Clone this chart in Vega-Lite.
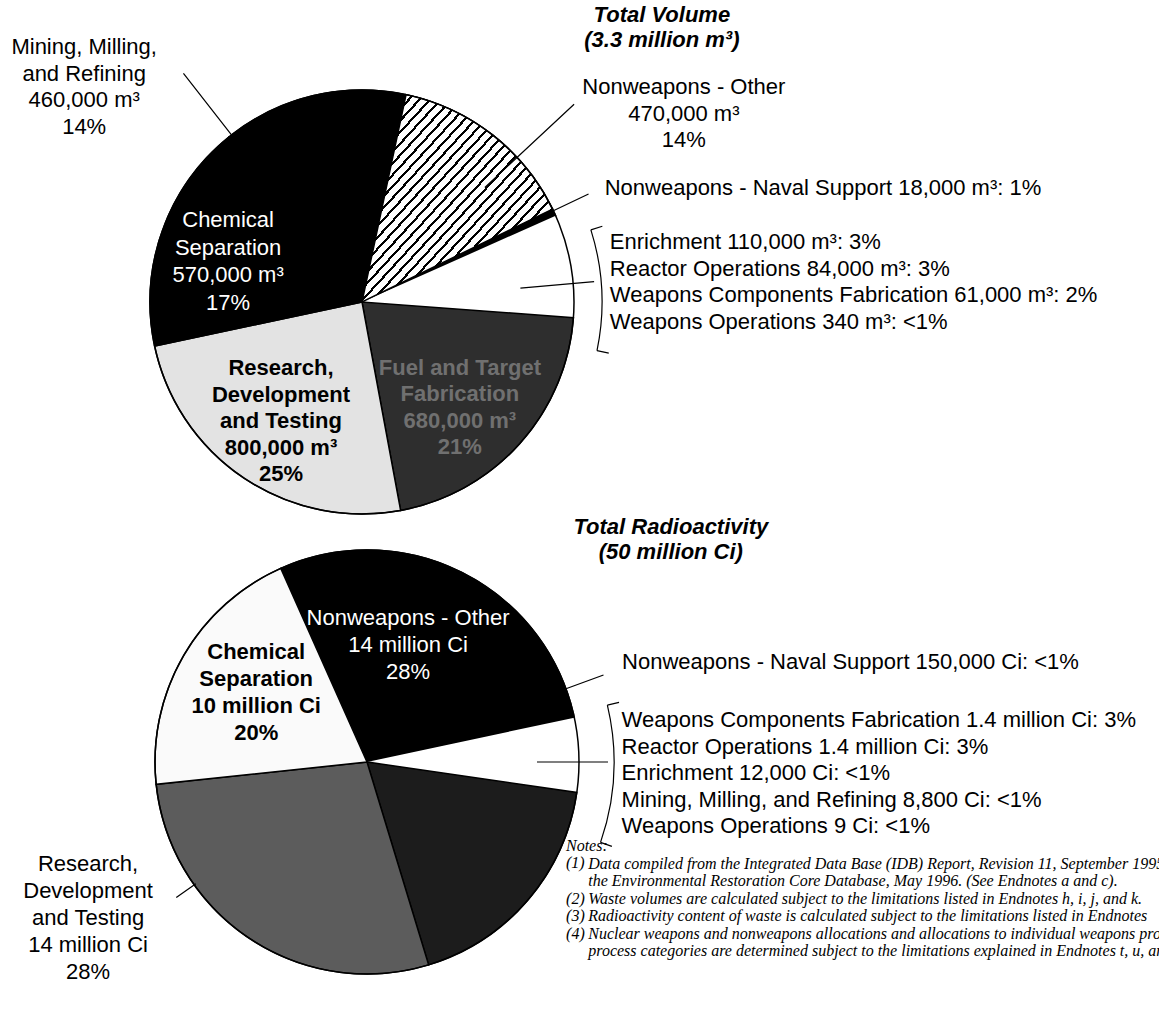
{
  "$schema": "https://vega.github.io/schema/vega-lite/v6.json",
  "padding": 0,
  "spacing": 0,
  "bounds": "flush",
  "background": "white",
  "config": {"view": {"stroke": null}, "text": {"font": "Liberation Sans", "fontSize": 22, "color": "black"}},
  "resolve": {"scale": {"theta": "independent", "color": "independent"}},
  "vconcat": [
    {
      "width": 724,
      "height": 604,
      "data": {"values": [
        {"category": "Nonweapons - Other", "value": 470000, "o": 1},
        {"category": "Nonweapons - Naval Support", "value": 18000, "o": 2},
        {"category": "Enrichment", "value": 110000, "o": 3},
        {"category": "Reactor Operations", "value": 84000, "o": 4},
        {"category": "Weapons Components Fabrication", "value": 61000, "o": 5},
        {"category": "Weapons Operations", "value": 340, "o": 6},
        {"category": "Fuel and Target Fabrication", "value": 680000, "o": 7},
        {"category": "Research, Development and Testing", "value": 800000, "o": 8},
        {"category": "Chemical Separation", "value": 570000, "o": 9},
        {"category": "Mining, Milling, and Refining", "value": 460000, "o": 10}
      ]},
      "transform": [{"stack": "value", "groupby": [], "sort": [{"field": "o", "order": "ascending"}], "as": ["v0", "v1"]}],
      "layer": [
        {
          "mark": {"type": "arc", "radius": 212, "stroke": "black"},
          "encoding": {
            "theta": {"field": "v0", "type": "quantitative", "stack": null, "scale": {"domain": [0, 3253340], "range": [0.20944, 6.49262], "nice": false, "zero": false}},
            "theta2": {"field": "v1"},
            "color": {"field": "category", "type": "nominal", "legend": null, "scale": {
              "domain": ["Nonweapons - Other", "Nonweapons - Naval Support", "Enrichment", "Reactor Operations", "Weapons Components Fabrication", "Weapons Operations", "Fuel and Target Fabrication", "Research, Development and Testing", "Chemical Separation", "Mining, Milling, and Refining"],
              "range": ["#b5b5b5", "#000000", "#ffffff", "#ffffff", "#ffffff", "#ffffff", "#2e2e2e", "#e3e3e3", "#000000", "#000000"]}},
            "strokeWidth": {"condition": {"test": "indexof(['Enrichment','Reactor Operations','Weapons Components Fabrication','Weapons Operations'], datum.category) >= 0", "value": 0}, "value": 1.5}
          }
        },
        {
          "transform": [{"filter": "datum.o === 1"}],
          "mark": {"type": "arc", "radius": 212, "stroke": "black", "strokeWidth": 1.5,
            "fill": {"gradient": "linear", "x1": 0, "y1": 0, "x2": 1, "y2": 1, "stops": [
              {"offset": 0, "color": "#fff"}, {"offset": 0.02, "color": "#fff"}, {"offset": 0.02, "color": "#000"}, {"offset": 0.02778, "color": "#000"},
              {"offset": 0.02778, "color": "#fff"}, {"offset": 0.04778, "color": "#fff"}, {"offset": 0.04778, "color": "#000"}, {"offset": 0.05556, "color": "#000"},
              {"offset": 0.05556, "color": "#fff"}, {"offset": 0.07556, "color": "#fff"}, {"offset": 0.07556, "color": "#000"}, {"offset": 0.08333, "color": "#000"},
              {"offset": 0.08333, "color": "#fff"}, {"offset": 0.10333, "color": "#fff"}, {"offset": 0.10333, "color": "#000"}, {"offset": 0.11111, "color": "#000"},
              {"offset": 0.11111, "color": "#fff"}, {"offset": 0.13111, "color": "#fff"}, {"offset": 0.13111, "color": "#000"}, {"offset": 0.13889, "color": "#000"},
              {"offset": 0.13889, "color": "#fff"}, {"offset": 0.15889, "color": "#fff"}, {"offset": 0.15889, "color": "#000"}, {"offset": 0.16667, "color": "#000"},
              {"offset": 0.16667, "color": "#fff"}, {"offset": 0.18667, "color": "#fff"}, {"offset": 0.18667, "color": "#000"}, {"offset": 0.19444, "color": "#000"},
              {"offset": 0.19444, "color": "#fff"}, {"offset": 0.21444, "color": "#fff"}, {"offset": 0.21444, "color": "#000"}, {"offset": 0.22222, "color": "#000"},
              {"offset": 0.22222, "color": "#fff"}, {"offset": 0.24222, "color": "#fff"}, {"offset": 0.24222, "color": "#000"}, {"offset": 0.25, "color": "#000"},
              {"offset": 0.25, "color": "#fff"}, {"offset": 0.27, "color": "#fff"}, {"offset": 0.27, "color": "#000"}, {"offset": 0.27778, "color": "#000"},
              {"offset": 0.27778, "color": "#fff"}, {"offset": 0.29778, "color": "#fff"}, {"offset": 0.29778, "color": "#000"}, {"offset": 0.30556, "color": "#000"},
              {"offset": 0.30556, "color": "#fff"}, {"offset": 0.32556, "color": "#fff"}, {"offset": 0.32556, "color": "#000"}, {"offset": 0.33333, "color": "#000"},
              {"offset": 0.33333, "color": "#fff"}, {"offset": 0.35333, "color": "#fff"}, {"offset": 0.35333, "color": "#000"}, {"offset": 0.36111, "color": "#000"},
              {"offset": 0.36111, "color": "#fff"}, {"offset": 0.38111, "color": "#fff"}, {"offset": 0.38111, "color": "#000"}, {"offset": 0.38889, "color": "#000"},
              {"offset": 0.38889, "color": "#fff"}, {"offset": 0.40889, "color": "#fff"}, {"offset": 0.40889, "color": "#000"}, {"offset": 0.41667, "color": "#000"},
              {"offset": 0.41667, "color": "#fff"}, {"offset": 0.43667, "color": "#fff"}, {"offset": 0.43667, "color": "#000"}, {"offset": 0.44444, "color": "#000"},
              {"offset": 0.44444, "color": "#fff"}, {"offset": 0.46444, "color": "#fff"}, {"offset": 0.46444, "color": "#000"}, {"offset": 0.47222, "color": "#000"},
              {"offset": 0.47222, "color": "#fff"}, {"offset": 0.49222, "color": "#fff"}, {"offset": 0.49222, "color": "#000"}, {"offset": 0.5, "color": "#000"},
              {"offset": 0.5, "color": "#fff"}, {"offset": 0.52, "color": "#fff"}, {"offset": 0.52, "color": "#000"}, {"offset": 0.52778, "color": "#000"},
              {"offset": 0.52778, "color": "#fff"}, {"offset": 0.54778, "color": "#fff"}, {"offset": 0.54778, "color": "#000"}, {"offset": 0.55556, "color": "#000"},
              {"offset": 0.55556, "color": "#fff"}, {"offset": 0.57556, "color": "#fff"}, {"offset": 0.57556, "color": "#000"}, {"offset": 0.58333, "color": "#000"},
              {"offset": 0.58333, "color": "#fff"}, {"offset": 0.60333, "color": "#fff"}, {"offset": 0.60333, "color": "#000"}, {"offset": 0.61111, "color": "#000"},
              {"offset": 0.61111, "color": "#fff"}, {"offset": 0.63111, "color": "#fff"}, {"offset": 0.63111, "color": "#000"}, {"offset": 0.63889, "color": "#000"},
              {"offset": 0.63889, "color": "#fff"}, {"offset": 0.65889, "color": "#fff"}, {"offset": 0.65889, "color": "#000"}, {"offset": 0.66667, "color": "#000"},
              {"offset": 0.66667, "color": "#fff"}, {"offset": 0.68667, "color": "#fff"}, {"offset": 0.68667, "color": "#000"}, {"offset": 0.69444, "color": "#000"},
              {"offset": 0.69444, "color": "#fff"}, {"offset": 0.71444, "color": "#fff"}, {"offset": 0.71444, "color": "#000"}, {"offset": 0.72222, "color": "#000"},
              {"offset": 0.72222, "color": "#fff"}, {"offset": 0.74222, "color": "#fff"}, {"offset": 0.74222, "color": "#000"}, {"offset": 0.75, "color": "#000"},
              {"offset": 0.75, "color": "#fff"}, {"offset": 0.77, "color": "#fff"}, {"offset": 0.77, "color": "#000"}, {"offset": 0.77778, "color": "#000"},
              {"offset": 0.77778, "color": "#fff"}, {"offset": 0.79778, "color": "#fff"}, {"offset": 0.79778, "color": "#000"}, {"offset": 0.80556, "color": "#000"},
              {"offset": 0.80556, "color": "#fff"}, {"offset": 0.82556, "color": "#fff"}, {"offset": 0.82556, "color": "#000"}, {"offset": 0.83333, "color": "#000"},
              {"offset": 0.83333, "color": "#fff"}, {"offset": 0.85333, "color": "#fff"}, {"offset": 0.85333, "color": "#000"}, {"offset": 0.86111, "color": "#000"},
              {"offset": 0.86111, "color": "#fff"}, {"offset": 0.88111, "color": "#fff"}, {"offset": 0.88111, "color": "#000"}, {"offset": 0.88889, "color": "#000"},
              {"offset": 0.88889, "color": "#fff"}, {"offset": 0.90889, "color": "#fff"}, {"offset": 0.90889, "color": "#000"}, {"offset": 0.91667, "color": "#000"},
              {"offset": 0.91667, "color": "#fff"}, {"offset": 0.93667, "color": "#fff"}, {"offset": 0.93667, "color": "#000"}, {"offset": 0.94444, "color": "#000"},
              {"offset": 0.94444, "color": "#fff"}, {"offset": 0.96444, "color": "#fff"}, {"offset": 0.96444, "color": "#000"}, {"offset": 0.97222, "color": "#000"},
              {"offset": 0.97222, "color": "#fff"}, {"offset": 0.99222, "color": "#fff"}, {"offset": 0.99222, "color": "#000"}, {"offset": 1, "color": "#000"}
            ]}},
          "encoding": {"theta": {"field": "v0", "type": "quantitative", "stack": null}, "theta2": {"field": "v1"}}
        },
        {
          "transform": [{"filter": "datum.o === 1"}],
          "mark": {"type": "arc", "radius": 212, "theta": 0, "theta2": 6.2832, "filled": false, "stroke": "black", "strokeWidth": 1.5},
          "encoding": {}
        },
        {
          "transform": [{"filter": "datum.o === 2"}],
          "mark": {"type": "arc", "radius": 251, "radius2": 212, "thetaOffset": 0.0086, "theta2Offset": 0.0086, "filled": false, "stroke": "black", "strokeWidth": 1.2},
          "encoding": {"theta": {"field": "v0", "type": "quantitative", "stack": null}, "theta2": {"field": "v0"}}
        },
        {
          "transform": [{"filter": "datum.o === 1"}],
          "mark": {"type": "arc", "radius": 290, "radius2": 168, "thetaOffset": 0.6109, "theta2Offset": 0.6109, "filled": false, "stroke": "black", "strokeWidth": 1.2},
          "encoding": {"theta": {"field": "v0", "type": "quantitative", "stack": null}, "theta2": {"field": "v0"}}
        },
        {
          "transform": [{"filter": "datum.o === 10"}],
          "mark": {"type": "arc", "radius": 290, "radius2": 212, "thetaOffset": 0.0157, "theta2Offset": 0.0157, "filled": false, "stroke": "black", "strokeWidth": 1.2},
          "encoding": {"theta": {"field": "v0", "type": "quantitative", "stack": null}, "theta2": {"field": "v0"}}
        },
        {
          "transform": [{"filter": "datum.o === 4"}],
          "mark": {"type": "arc", "radius": 233, "radius2": 159, "thetaOffset": 0.1192, "theta2Offset": 0.1192, "filled": false, "stroke": "black", "strokeWidth": 1.2},
          "encoding": {"theta": {"field": "v0", "type": "quantitative", "stack": null}, "theta2": {"field": "v0"}}
        },
        {
          "transform": [{"filter": "datum.o === 3"}],
          "mark": {"type": "arc", "radius": 240, "radius2": 240, "thetaOffset": 0.1134, "theta2Offset": 0.6231, "filled": false, "stroke": "black", "strokeWidth": 1.2},
          "encoding": {"theta": {"field": "v0", "type": "quantitative", "stack": null}, "theta2": {"field": "v0"}}
        },
        {
          "transform": [{"filter": "datum.o === 3"}],
          "mark": {"type": "arc", "radius": 252, "radius2": 240, "thetaOffset": 0.1134, "theta2Offset": 0.1134, "filled": false, "stroke": "black", "strokeWidth": 1.2},
          "encoding": {"theta": {"field": "v0", "type": "quantitative", "stack": null}, "theta2": {"field": "v0"}}
        },
        {
          "transform": [{"filter": "datum.o === 3"}],
          "mark": {"type": "arc", "radius": 252, "radius2": 240, "thetaOffset": 0.6231, "theta2Offset": 0.6231, "filled": false, "stroke": "black", "strokeWidth": 1.2},
          "encoding": {"theta": {"field": "v0", "type": "quantitative", "stack": null}, "theta2": {"field": "v0"}}
        },
        {
          "transform": [{"filter": "datum.o === 1"}],
          "mark": {"type": "text", "radius": 415, "thetaOffset": 0.5981, "align": "center", "baseline": "middle", "fontWeight": "bold", "fontStyle": "italic", "lineHeight": 25},
          "encoding": {"theta": {"field": "v0", "type": "quantitative", "stack": null}, "text": {"value": ["Total Volume", "(3.3 million m³)"]}}
        },
        {
          "transform": [{"filter": "datum.o === 1"}],
          "mark": {"type": "text", "radius": 387, "thetaOffset": 0.7727, "align": "center", "baseline": "middle", "lineHeight": 26.5},
          "encoding": {"theta": {"field": "v0", "type": "quantitative", "stack": null}, "text": {"value": ["Nonweapons - Other", "470,000 m³", "14%"]}}
        },
        {
          "transform": [{"filter": "datum.o === 2"}],
          "mark": {"type": "text", "radius": 268, "thetaOffset": 0.0155, "align": "left", "baseline": "middle"},
          "encoding": {"theta": {"field": "v0", "type": "quantitative", "stack": null}, "text": {"value": "Nonweapons - Naval Support 18,000 m³: 1%"}}
        },
        {
          "transform": [{"filter": "datum.o === 4"}],
          "mark": {"type": "text", "radius": 255, "thetaOffset": -0.0309, "align": "left", "baseline": "middle", "lineHeight": 26.5},
          "encoding": {"theta": {"field": "v0", "type": "quantitative", "stack": null}, "text": {"value": ["Enrichment 110,000 m³: 3%", "Reactor Operations 84,000 m³: 3%", "Weapons Components Fabrication 61,000 m³: 2%", "Weapons Operations 340 m³: <1%"]}}
        },
        {
          "transform": [{"filter": "datum.o === 7"}],
          "mark": {"type": "text", "radius": 118, "thetaOffset": 0.5185, "align": "center", "baseline": "middle", "fontWeight": "bold", "color": "#707070", "lineHeight": 26.5},
          "encoding": {"theta": {"field": "v0", "type": "quantitative", "stack": null}, "text": {"value": ["Fuel and Target", "Fabrication", "680,000 m³", "21%"]}}
        },
        {
          "transform": [{"filter": "datum.o === 8"}],
          "mark": {"type": "text", "radius": 104.5, "thetaOffset": 1.0704, "align": "center", "baseline": "middle", "fontWeight": "bold", "lineHeight": 26.5},
          "encoding": {"theta": {"field": "v0", "type": "quantitative", "stack": null}, "text": {"value": ["Research,", "Development", "and Testing", "800,000 m³", "25%"]}}
        },
        {
          "transform": [{"filter": "datum.o === 9"}],
          "mark": {"type": "text", "radius": 157, "thetaOffset": 0.7583, "align": "center", "baseline": "middle", "color": "white", "lineHeight": 27.5},
          "encoding": {"theta": {"field": "v0", "type": "quantitative", "stack": null}, "text": {"value": ["Chemical", "Separation", "570,000 m³", "17%"]}}
        },
        {
          "transform": [{"filter": "datum.o === 10"}],
          "mark": {"type": "text", "radius": 377, "thetaOffset": -0.1496, "align": "center", "baseline": "middle", "lineHeight": 26.5},
          "encoding": {"theta": {"field": "v0", "type": "quantitative", "stack": null}, "text": {"value": ["Mining, Milling,", "and Refining", "460,000 m³", "14%"]}}
        }
      ]
    },
    {
      "width": 734,
      "height": 316,
      "data": {"values": [
        {"category": "Nonweapons - Other", "value": 14000000, "o": 1},
        {"category": "Nonweapons - Naval Support", "value": 150000, "o": 2},
        {"category": "Weapons Components Fabrication", "value": 1400000, "o": 3},
        {"category": "Reactor Operations", "value": 1400000, "o": 4},
        {"category": "Enrichment", "value": 12000, "o": 5},
        {"category": "Mining, Milling, and Refining", "value": 8800, "o": 6},
        {"category": "Weapons Operations", "value": 9, "o": 7},
        {"category": "Fuel and Target Fabrication", "value": 9000000, "o": 8},
        {"category": "Research, Development and Testing", "value": 14000000, "o": 9},
        {"category": "Chemical Separation", "value": 10000000, "o": 10}
      ]},
      "transform": [{"stack": "value", "groupby": [], "sort": [{"field": "o", "order": "ascending"}], "as": ["v0", "v1"]}],
      "layer": [
        {
          "mark": {"type": "arc", "radius": 212, "stroke": "black"},
          "encoding": {
            "theta": {"field": "v0", "type": "quantitative", "stack": null, "scale": {"domain": [0, 49970809], "range": [-0.41888, 5.86431], "nice": false, "zero": false}},
            "theta2": {"field": "v1"},
            "color": {"field": "category", "type": "nominal", "legend": null, "scale": {
              "domain": ["Nonweapons - Other", "Nonweapons - Naval Support", "Weapons Components Fabrication", "Reactor Operations", "Enrichment", "Mining, Milling, and Refining", "Weapons Operations", "Fuel and Target Fabrication", "Research, Development and Testing", "Chemical Separation"],
              "range": ["#000000", "#000000", "#ffffff", "#ffffff", "#ffffff", "#ffffff", "#ffffff", "#1c1c1c", "#5c5c5c", "#fafafa"]}},
            "strokeWidth": {"condition": {"test": "indexof(['Enrichment','Reactor Operations','Weapons Components Fabrication','Weapons Operations','Mining, Milling, and Refining'], datum.category) >= 0", "value": 0}, "value": 1.5}
          }
        },
        {
          "transform": [{"filter": "datum.o === 1"}],
          "mark": {"type": "arc", "radius": 212, "theta": 0, "theta2": 6.2832, "filled": false, "stroke": "black", "strokeWidth": 1.5},
          "encoding": {}
        },
        {
          "transform": [{"filter": "datum.o === 2"}],
          "mark": {"type": "arc", "radius": 252, "radius2": 212, "thetaOffset": -0.1232, "theta2Offset": -0.1232, "filled": false, "stroke": "black", "strokeWidth": 1.2},
          "encoding": {"theta": {"field": "v0", "type": "quantitative", "stack": null}, "theta2": {"field": "v0"}}
        },
        {
          "transform": [{"filter": "datum.o === 9"}],
          "mark": {"type": "arc", "radius": 234, "radius2": 210, "thetaOffset": 1.2479, "theta2Offset": 1.2479, "filled": false, "stroke": "black", "strokeWidth": 1.2},
          "encoding": {"theta": {"field": "v0", "type": "quantitative", "stack": null}, "theta2": {"field": "v0"}}
        },
        {
          "transform": [{"filter": "datum.o === 4"}],
          "mark": {"type": "arc", "radius": 241, "radius2": 170, "thetaOffset": 0.0344, "theta2Offset": 0.0344, "filled": false, "stroke": "black", "strokeWidth": 1.2},
          "encoding": {"theta": {"field": "v0", "type": "quantitative", "stack": null}, "theta2": {"field": "v0"}}
        },
        {
          "transform": [{"filter": "datum.o === 3"}],
          "mark": {"type": "arc", "radius": 247, "radius2": 247, "thetaOffset": -0.0216, "theta2Offset": 0.5421, "filled": false, "stroke": "black", "strokeWidth": 1.2},
          "encoding": {"theta": {"field": "v0", "type": "quantitative", "stack": null}, "theta2": {"field": "v0"}}
        },
        {
          "transform": [{"filter": "datum.o === 3"}],
          "mark": {"type": "arc", "radius": 259, "radius2": 247, "thetaOffset": -0.0216, "theta2Offset": -0.0216, "filled": false, "stroke": "black", "strokeWidth": 1.2},
          "encoding": {"theta": {"field": "v0", "type": "quantitative", "stack": null}, "theta2": {"field": "v0"}}
        },
        {
          "transform": [{"filter": "datum.o === 3"}],
          "mark": {"type": "arc", "radius": 259, "radius2": 247, "thetaOffset": 0.5421, "theta2Offset": 0.5421, "filled": false, "stroke": "black", "strokeWidth": 1.2},
          "encoding": {"theta": {"field": "v0", "type": "quantitative", "stack": null}, "theta2": {"field": "v0"}}
        },
        {
          "transform": [{"filter": "datum.o === 1"}],
          "mark": {"type": "text", "radius": 384, "thetaOffset": 1.3317, "align": "center", "baseline": "middle", "fontWeight": "bold", "fontStyle": "italic", "lineHeight": 25},
          "encoding": {"theta": {"field": "v0", "type": "quantitative", "stack": null}, "text": {"value": ["Total Radioactivity", "(50 million Ci)"]}}
        },
        {
          "transform": [{"filter": "datum.o === 1"}],
          "mark": {"type": "text", "radius": 150, "thetaOffset": 0.6962, "align": "center", "baseline": "middle", "color": "white", "lineHeight": 27},
          "encoding": {"theta": {"field": "v0", "type": "quantitative", "stack": null}, "text": {"value": ["Nonweapons - Other", "14 million Ci", "28%"]}}
        },
        {
          "transform": [{"filter": "datum.o === 2"}],
          "mark": {"type": "text", "radius": 274, "thetaOffset": -0.1441, "align": "left", "baseline": "middle"},
          "encoding": {"theta": {"field": "v0", "type": "quantitative", "stack": null}, "text": {"value": "Nonweapons - Naval Support 150,000 Ci: <1%"}}
        },
        {
          "transform": [{"filter": "datum.o === 4"}],
          "mark": {"type": "text", "radius": 258, "thetaOffset": -0.1288, "align": "left", "baseline": "middle", "lineHeight": 26.5},
          "encoding": {"theta": {"field": "v0", "type": "quantitative", "stack": null}, "text": {"value": ["Weapons Components Fabrication 1.4 million Ci: 3%", "Reactor Operations 1.4 million Ci: 3%", "Enrichment 12,000 Ci: <1%", "Mining, Milling, and Refining 8,800 Ci: <1%", "Weapons Operations 9 Ci: <1%"]}}
        },
        {
          "transform": [{"filter": "datum.o === 9"}],
          "mark": {"type": "text", "radius": 297, "thetaOffset": 1.5153, "align": "center", "baseline": "middle", "lineHeight": 27},
          "encoding": {"theta": {"field": "v0", "type": "quantitative", "stack": null}, "text": {"value": ["Research,", "Development", "and Testing", "14 million Ci", "28%"]}}
        },
        {
          "transform": [{"filter": "datum.o === 10"}],
          "mark": {"type": "text", "radius": 156, "thetaOffset": 0.8863, "align": "center", "baseline": "middle", "fontWeight": "bold", "lineHeight": 27},
          "encoding": {"theta": {"field": "v0", "type": "quantitative", "stack": null}, "text": {"value": ["Chemical", "Separation", "10 million Ci", "20%"]}}
        },
        {
          "transform": [{"filter": "datum.o === 8"}],
          "mark": {"type": "text", "radius": 213, "thetaOffset": 0.2206, "align": "left", "baseline": "top", "font": "Liberation Serif", "fontStyle": "italic", "fontSize": 16, "lineHeight": 17.5},
          "encoding": {"theta": {"field": "v0", "type": "quantitative", "stack": null}, "text": {"value": ["Notes:", "(1)"]}}
        },
        {
          "transform": [{"filter": "datum.o === 8"}],
          "mark": {"type": "text", "radius": 237, "thetaOffset": 0.4292, "align": "left", "baseline": "top", "font": "Liberation Serif", "fontStyle": "italic", "fontSize": 16, "lineHeight": 17.5},
          "encoding": {"theta": {"field": "v0", "type": "quantitative", "stack": null}, "text": {"value": ["(2)", "(3)", "(4)"]}}
        },
        {
          "transform": [{"filter": "datum.o === 8"}],
          "mark": {"type": "text", "radius": 234, "thetaOffset": 0.1874, "align": "left", "baseline": "top", "font": "Liberation Serif", "fontStyle": "italic", "fontSize": 16, "lineHeight": 17.5},
          "encoding": {"theta": {"field": "v0", "type": "quantitative", "stack": null}, "text": {"value": ["\u00a0", "Data compiled from the Integrated Data Base (IDB) Report, Revision 11, September 1995, and", "the Environmental Restoration Core Database, May 1996.  (See Endnotes a and c).", "Waste volumes are calculated subject to the limitations listed in Endnotes h, i, j, and k.", "Radioactivity content of waste is calculated subject to the limitations listed in Endnotes", "Nuclear weapons and nonweapons allocations and allocations to individual weapons production", "process categories are determined subject to the limitations explained in Endnotes t, u, and v."]}}
        }
      ]
    }
  ]
}
